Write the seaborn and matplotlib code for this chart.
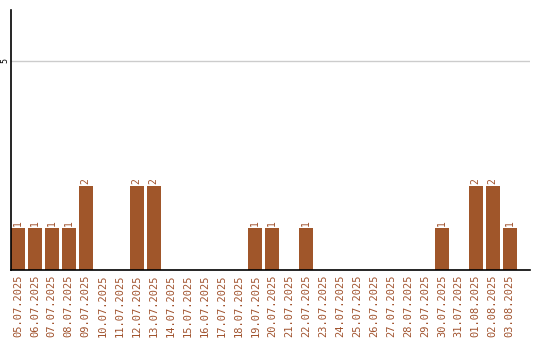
import matplotlib
matplotlib.use("Agg")
import matplotlib.pyplot as plt
import seaborn as sns
import pandas as pd

dates = ["05.07.2025", "06.07.2025", "07.07.2025", "08.07.2025", "09.07.2025",
         "10.07.2025", "11.07.2025", "12.07.2025", "13.07.2025", "14.07.2025",
         "15.07.2025", "16.07.2025", "17.07.2025", "18.07.2025", "19.07.2025",
         "20.07.2025", "21.07.2025", "22.07.2025", "23.07.2025", "24.07.2025",
         "25.07.2025", "26.07.2025", "27.07.2025", "28.07.2025", "29.07.2025",
         "30.07.2025", "31.07.2025", "01.08.2025", "02.08.2025", "03.08.2025"]
counts = [1, 1, 1, 1, 2, 0, 0, 2, 2, 0, 0, 0, 0, 0, 1, 1, 0, 1, 0, 0,
          0, 0, 0, 0, 0, 1, 0, 2, 2, 1]

bar_color = "#a0562a"
label_color = "#a0522d"

sns.set_style("white")
plt.rcParams["font.family"] = ["DejaVu Sans Mono"]

df = pd.DataFrame({"date": dates, "count": counts})

fig = plt.figure(figsize=(5.4, 3.4), dpi=100)
ax = fig.add_axes([11 / 540, 70 / 340, 519 / 540, 260 / 340])

sns.barplot(data=df, x="date", y="count", color=bar_color, width=0.82,
            saturation=1, linewidth=0, ax=ax)

for i, v in enumerate(counts):
    if v > 0:
        ax.text(i, v + 0.05, str(v), rotation=90, ha="center", va="bottom",
                fontsize=7, color=label_color)

ax.set_ylim(0, 6.22)
ax.set_xlim(-0.41, 30.2)
ax.set_yticks([5])
ax.set_yticklabels(["5"], rotation=90, va="center", fontsize=6, color="black")
ax.yaxis.grid(True, color="#cccccc", linewidth=1)
ax.set_axisbelow(True)
ax.tick_params(axis="both", length=0)
ax.tick_params(axis="y", pad=1.5)
ax.tick_params(axis="x", pad=3, labelsize=7.5, labelcolor=label_color,
               labelrotation=90)
ax.set_xlabel("")
ax.set_ylabel("")

for side in ("top", "right"):
    ax.spines[side].set_visible(False)
for side in ("left", "bottom"):
    ax.spines[side].set_color("black")
    ax.spines[side].set_linewidth(1.2)

fig.savefig("out.png", dpi=100)
